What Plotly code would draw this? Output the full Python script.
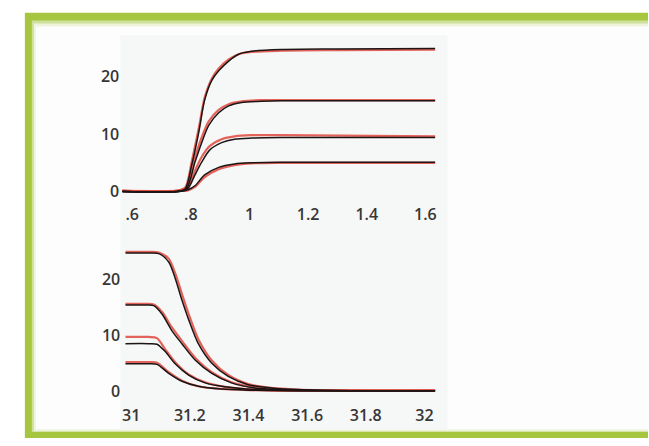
import plotly.graph_objects as go

W, H = 649, 446

# ---------- data ----------
# upper panel: step-up responses
T1_x = [0.566, 0.75, 0.780, 0.803, 0.827, 0.847, 0.871, 0.895, 0.929, 0.963, 1.007, 1.108, 1.30, 1.634]
T1_black = [0.0, 0.0, 0.4, 4.6, 10.3, 15.9, 19.3, 21.0, 22.7, 23.9, 24.4, 24.7, 24.8, 24.9]
T1_red = [0.1, 0.1, 0.6, 5.2, 11.0, 16.3, 19.6, 21.4, 23.0, 23.9, 24.3, 24.5, 24.6, 24.7]

T2_x = [0.566, 0.75, 0.785, 0.814, 0.837, 0.861, 0.895, 0.929, 0.973, 1.041, 1.108, 1.634]
T2_black = [0.0, 0.0, 0.5, 5.1, 8.5, 11.5, 13.7, 14.9, 15.5, 15.7, 15.8, 15.8]
T2_red = [0.1, 0.1, 0.8, 5.9, 9.4, 12.2, 14.2, 15.2, 15.7, 15.9, 15.9, 15.9]

T3_x = [0.566, 0.76, 0.790, 0.814, 0.837, 0.864, 0.905, 0.949, 1.007, 1.108, 1.634]
T3_black = [0.0, 0.0, 0.5, 2.9, 5.1, 7.2, 8.5, 9.1, 9.3, 9.4, 9.4]
T3_red = [0.1, 0.1, 0.8, 3.6, 6.0, 7.9, 9.1, 9.6, 9.8, 9.8, 9.6]

T4_x = [0.566, 0.76, 0.790, 0.814, 0.847, 0.895, 0.949, 1.007, 1.108, 1.634]
T4_black = [0.0, 0.0, 0.3, 1.0, 2.9, 4.2, 4.8, 5.0, 5.1, 5.1]
T4_red = [0.1, 0.1, 0.2, 0.8, 2.5, 3.9, 4.6, 4.9, 5.0, 5.0]

# lower panel: step-down responses
B1_x = [30.98, 31.06, 31.094, 31.128, 31.150, 31.173, 31.196, 31.229, 31.275, 31.331, 31.399, 31.478, 31.568, 31.75, 32.037]
B1_black = [24.8, 24.8, 24.7, 23.2, 20.3, 16.4, 12.9, 8.6, 5.1, 2.75, 1.28, 0.7, 0.4, 0.2, 0.2]
B1_red = [25.0, 25.0, 24.9, 23.8, 21.2, 17.5, 13.9, 9.4, 5.6, 3.0, 1.4, 0.7, 0.4, 0.2, 0.2]

B2_x = [30.98, 31.05, 31.077, 31.105, 31.139, 31.173, 31.218, 31.275, 31.342, 31.421, 31.512, 31.75, 32.037]
B2_black = [15.5, 15.5, 15.4, 13.9, 10.9, 8.6, 5.7, 3.3, 1.6, 0.7, 0.4, 0.2, 0.2]
B2_red = [15.7, 15.7, 15.6, 14.3, 11.5, 9.1, 6.1, 3.5, 1.7, 0.8, 0.4, 0.2, 0.2]

B3_x = [30.98, 31.06, 31.088, 31.116, 31.150, 31.196, 31.252, 31.320, 31.421, 31.60, 32.037]
B3_black = [8.6, 8.6, 8.5, 7.2, 5.0, 3.0, 1.6, 0.9, 0.4, 0.2, 0.2]
B3_red = [9.8, 9.8, 9.6, 7.6, 5.3, 3.1, 1.7, 0.9, 0.4, 0.2, 0.2]

B4_x = [30.98, 31.06, 31.088, 31.128, 31.173, 31.229, 31.308, 31.399, 31.60, 32.037]
B4_black = [5.0, 5.0, 4.9, 3.3, 1.9, 1.0, 0.5, 0.3, 0.2, 0.2]
B4_red = [5.3, 5.3, 5.2, 3.5, 2.0, 1.0, 0.5, 0.3, 0.2, 0.2]

top_tickvals = [0.6, 0.8, 1.0, 1.2, 1.4, 1.6]
top_ticktext = [".6", ".8", "1", "1.2", "1.4", "1.6"]
bot_tickvals = [31.0, 31.2, 31.4, 31.6, 31.8, 32.0]
bot_ticktext = ["31", "31.2", "31.4", "31.6", "31.8", "32"]
y_tickvals = [0, 10, 20]
y_ticktext = ["0", "10", "20"]

# ---------- styling ----------
RED = "#e0483e"
BLACK = "#1c1515"
GREEN = "#a6c63f"
FONT = dict(family="Open Sans", size=16, color="#363636", weight=600)

top_curves = [(T1_x, T1_red, T1_black), (T2_x, T2_red, T2_black),
              (T3_x, T3_red, T3_black), (T4_x, T4_red, T4_black)]
bot_curves = [(B1_x, B1_red, B1_black), (B2_x, B2_red, B2_black),
              (B3_x, B3_red, B3_black), (B4_x, B4_red, B4_black)]

fig = go.Figure()
for curves, xa, ya in [(top_curves, "x", "y"), (bot_curves, "x2", "y2")]:
    for xs, red, _ in curves:
        fig.add_trace(go.Scatter(x=xs, y=red, mode="lines", xaxis=xa, yaxis=ya,
                                 line=dict(color=RED, width=2.2, shape="spline", smoothing=0.8),
                                 opacity=0.85, hoverinfo="skip", showlegend=False))
    for xs, _, black in curves:
        fig.add_trace(go.Scatter(x=xs, y=black, mode="lines", xaxis=xa, yaxis=ya,
                                 line=dict(color=BLACK, width=1.5, shape="spline", smoothing=0.8),
                                 hoverinfo="skip", showlegend=False))


def px(v):
    return v / W


def py(v):
    return 1 - v / H


shapes = [
    # green frame (right side runs off the picture)
    dict(type="rect", xref="paper", yref="paper", x0=px(22), x1=1.0, y0=0.0, y1=py(13),
         fillcolor=GREEN, line=dict(width=0), layer="below"),
    dict(type="rect", xref="paper", yref="paper", x0=px(29), x1=1.0, y0=py(440), y1=py(21),
         fillcolor="#cfe09a", line=dict(width=0), layer="below"),
    dict(type="rect", xref="paper", yref="paper", x0=px(31), x1=1.0, y0=py(439), y1=py(24),
         fillcolor="#eef4dc", line=dict(width=0), layer="below"),
    dict(type="rect", xref="paper", yref="paper", x0=px(33), x1=1.0, y0=py(437), y1=py(27),
         fillcolor="#fdfdfd", line=dict(width=0), layer="below"),
    # faint plot column
    dict(type="rect", xref="paper", yref="paper", x0=px(118), x1=px(447), y0=py(437), y1=py(36),
         fillcolor="#f6f7f7", line=dict(width=0), layer="below"),
]

axis_common = dict(showgrid=False, zeroline=False, showline=False, ticks="",
                   tickfont=FONT, fixedrange=True)

fig.update_layout(
    width=W, height=H,
    margin=dict(l=0, r=0, t=0, b=0),
    paper_bgcolor="white",
    plot_bgcolor="rgba(0,0,0,0)",
    shapes=shapes,
    xaxis=dict(domain=[px(120), px(435)], range=[0.5661, 1.6339], anchor="y",
               tickvals=top_tickvals, ticktext=top_ticktext, ticklabelstandoff=8, **axis_common),
    yaxis=dict(domain=[py(199), py(44)], range=[-0.68, 25.81], anchor="x",
               tickvals=y_tickvals, ticktext=y_ticktext, ticklabelstandoff=2, **axis_common),
    xaxis2=dict(domain=[px(123), px(435)], range=[30.9797, 32.0373], anchor="y2",
                tickvals=bot_tickvals, ticktext=bot_ticktext, ticklabelstandoff=9, **axis_common),
    yaxis2=dict(domain=[py(402), py(252)], range=[-0.53, 25.79], anchor="x2",
                tickvals=y_tickvals, ticktext=y_ticktext, ticklabelstandoff=4, **axis_common),
)

POST = (
    "document.documentElement.style.cssText='margin:0;padding:0;overflow:hidden;';"
    "document.body.style.cssText='margin:0;padding:0;overflow:hidden;';"
    "var d=document.getElementById('{plot_id}');"
    "d.parentElement.style.cssText='position:fixed;left:0;top:0;width:649px;height:446px;overflow:hidden;';"
)

fig.write_html("out.html", config=dict(displayModeBar=False), post_script=POST)
